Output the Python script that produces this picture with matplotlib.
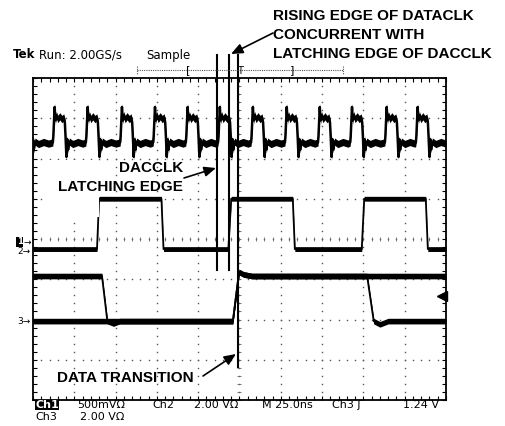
import numpy as np
import matplotlib
matplotlib.use("Agg")
import matplotlib.pyplot as plt
from matplotlib.patches import Rectangle

# all trace values are in screen divisions (x: 0..10 left to right, y: 0..8 bottom to top)

# ch1 (DACCLK): rising edge positions
ch1_edges = [-0.35, 0.48, 1.28, 2.11, 2.91, 3.70, 4.48, 5.28, 6.10, 6.90, 7.68, 8.52, 9.27]
# one DACCLK pulse (offset from its edge, level)
ch1_dx = [0, .012, .024, .044, .063, .085, .121, .169, .218, .266, .291, .310,
          .329, .349, .368, .40, .484, .605, .726]
ch1_dy = [6.40, 6.55, 6.82, 7.28, 6.95, 7.08, 6.98, 7.05, 6.98, 7.02, 6.90, 6.50,
          6.04, 6.48, 6.22, 6.42, 6.36, 6.41, 6.37]

# ch2 (DATACLK)
ch2_x = [0, 1.55, 1.60, 3.11, 3.16, 4.73, 4.80, 6.29, 6.34, 7.96, 8.02, 9.51, 9.56, 10]
ch2_y = [3.75, 3.75, 5.00, 5.00, 3.75, 3.75, 5.00, 5.00, 3.75, 3.75, 5.00, 5.00, 3.75, 3.75]

# ch3 (data), two overlaid acquisitions
ch3a_x = [0, 1.67, 1.80, 1.95, 2.10, 4.84, 4.99, 5.10, 5.30, 10]
ch3a_y = [3.08, 3.08, 1.96, 1.90, 1.96, 1.96, 3.18, 3.12, 3.08, 3.08]
ch3b_x = [0, 4.84, 4.99, 5.10, 5.30, 8.09, 8.25, 8.40, 8.60, 10]
ch3b_y = [1.96, 1.96, 3.18, 3.12, 3.08, 3.08, 1.96, 1.88, 1.96, 1.96]

# marker lines drawn over the screenshot (x, top, bottom)
mark_x = [4.46, 4.75, 4.96]
mark_top = [8.57, 8.57, 8.57]
mark_bot = [3.23, 3.23, 0.82]

W, H = 506, 426
fig = plt.figure(figsize=(W / 100, H / 100), dpi=100)
ax = fig.add_axes([33 / W, 26 / H, 413 / W, 322 / H])
ax.set_xlim(0, 10)
ax.set_ylim(0, 8)


def fp(x, y):
    # pixel position -> figure fraction
    return x / W, 1 - y / H


# graticule
for s in ax.spines.values():
    s.set_linewidth(1.3)
ax.set_xticks([])
ax.set_yticks([])
ax.set_xticks(np.arange(0, 10.01, 0.2), minor=True)
ax.set_yticks(np.arange(0, 8.01, 0.2), minor=True)
ax.tick_params(which="minor", direction="in", length=3, width=0.8,
               top=True, right=True, labelbottom=False, labelleft=False)
dots = np.arange(0, 10.01, 0.2)
yy = np.arange(0, 8.01, 0.2)
for gx in range(1, 10):
    ax.plot([gx] * len(yy), yy, ls="none", marker="s", ms=1.0, color="#555", mew=0)
for gy in range(1, 8):
    ax.plot(dots, [gy] * len(dots), ls="none", marker="s", ms=1.0, color="#555", mew=0)
ax.plot(dots, [4] * len(dots), ls="none", marker="|", ms=2.5, color="#666", mew=0.6)
ax.plot([5] * len(yy), yy, ls="none", marker="_", ms=2.5, color="#666", mew=0.6)


def trace(x, y, half, lw=1.3):
    x = np.asarray(x)
    y = np.asarray(y)
    ax.fill_between(x, y - half, y + half, color="black", lw=0, zorder=3)
    ax.plot(x, y, color="black", lw=lw, zorder=3)


ch1_x = np.concatenate([e + np.array(ch1_dx) for e in ch1_edges])
ch1_y = np.concatenate([ch1_dy for _ in ch1_edges])
trace(ch1_x, ch1_y, 0.09, lw=1.8)
trace(ch2_x, ch2_y, 0.06)
trace(ch3a_x, ch3a_y, 0.07)
trace(ch3b_x, ch3b_y, 0.07)

# white patch behind the DACCLK label
ax.add_patch(Rectangle((0.29, 4.55), 1.32, 1.41, facecolor="white", edgecolor="none", zorder=4))

for mx, t, b in zip(mark_x, mark_top, mark_bot):
    ax.plot([mx, mx], [b, t], color="black", lw=1.5, clip_on=False, zorder=5)

# trigger level marker and ground markers
ax.plot([9.90], [2.58], marker="<", ms=7, color="black", clip_on=False, zorder=5)
fig.text(*fp(19.5, 242), "1", color="white", fontsize=6, fontweight="bold", ha="center", va="center",
         bbox=dict(facecolor="black", edgecolor="none", pad=0.5))
fig.text(*fp(24, 242), "\u2192", fontsize=6.5, ha="left", va="center")
fig.text(*fp(17, 252), "2\u2192", fontsize=6.5, ha="left", va="center")
fig.text(*fp(17, 322), "3\u2192", fontsize=6.5, ha="left", va="center")

# scope header
fig.text(*fp(13, 55), "Tek", fontsize=8.5, fontweight="bold", ha="left", va="center")
fig.text(*fp(39, 55), "Run: 2.00GS/s", fontsize=8.5, ha="left", va="center")
fig.text(*fp(146, 55), "Sample", fontsize=8.5, ha="left", va="center")
fig.add_artist(plt.Line2D([137 / W, 343 / W], [1 - 70 / H, 1 - 70 / H], transform=fig.transFigure,
                          color="#555", lw=0.8, ls=(0, (1, 1))))
for ex in (137, 343):
    fig.add_artist(plt.Line2D([ex / W, ex / W], [1 - 66 / H, 1 - 74 / H],
                              transform=fig.transFigure, color="#555", lw=0.8, ls=(0, (1, 1))))
fig.text(*fp(188, 70), "[", fontsize=8, ha="center", va="center")
fig.text(*fp(292, 70), "]", fontsize=8, ha="center", va="center")
fig.text(*fp(240, 71), "T", fontsize=7, ha="center", va="center")

# scope footer
foot = dict(fontsize=8, ha="left", va="center")
fig.text(*fp(35, 405), "Ch1", color="white", fontweight="bold",
         bbox=dict(facecolor="black", edgecolor="none", pad=0.2), **foot)
fig.text(*fp(77, 405), "500mV\u03a9", **foot)
fig.text(*fp(152, 405), "Ch2", **foot)
fig.text(*fp(194, 405), "2.00 V\u03a9", **foot)
fig.text(*fp(262, 405), "M 25.0ns", **foot)
fig.text(*fp(332, 405), "Ch3 \u0283", **foot)
fig.text(*fp(403, 405), "1.24 V", **foot)
fig.text(*fp(35, 417), "Ch3", **foot)
fig.text(*fp(80, 417), "2.00 V\u03a9", **foot)

# annotations
bold = dict(fontsize=11, fontweight="bold", family="Liberation Sans", va="center")
fig.text(*fp(273, 16), "RISING EDGE OF DATACLK", ha="left", **bold)
fig.text(*fp(273, 35), "CONCURRENT WITH", ha="left", **bold)
fig.text(*fp(273, 54), "LATCHING EDGE OF DACCLK", ha="left", **bold)
fig.text(*fp(183, 168), "DACCLK", ha="right", zorder=6, **bold)
fig.text(*fp(183, 187), "LATCHING EDGE", ha="right", zorder=6, **bold)
fig.text(*fp(57, 378), "DATA TRANSITION", ha="left", **bold)

aprops = dict(arrowstyle="-|>,head_length=0.7,head_width=0.3", color="black", lw=1.2,
              shrinkA=0, shrinkB=0)
for tail, tip in [((273, 33), (231, 54)), ((184, 178), (216, 168)), ((203, 376), (236, 354))]:
    ax.annotate("", xy=fp(*tip), xytext=fp(*tail), xycoords="figure fraction",
                textcoords="figure fraction", arrowprops=aprops, annotation_clip=False, zorder=6)

fig.savefig("out.png", dpi=100)
